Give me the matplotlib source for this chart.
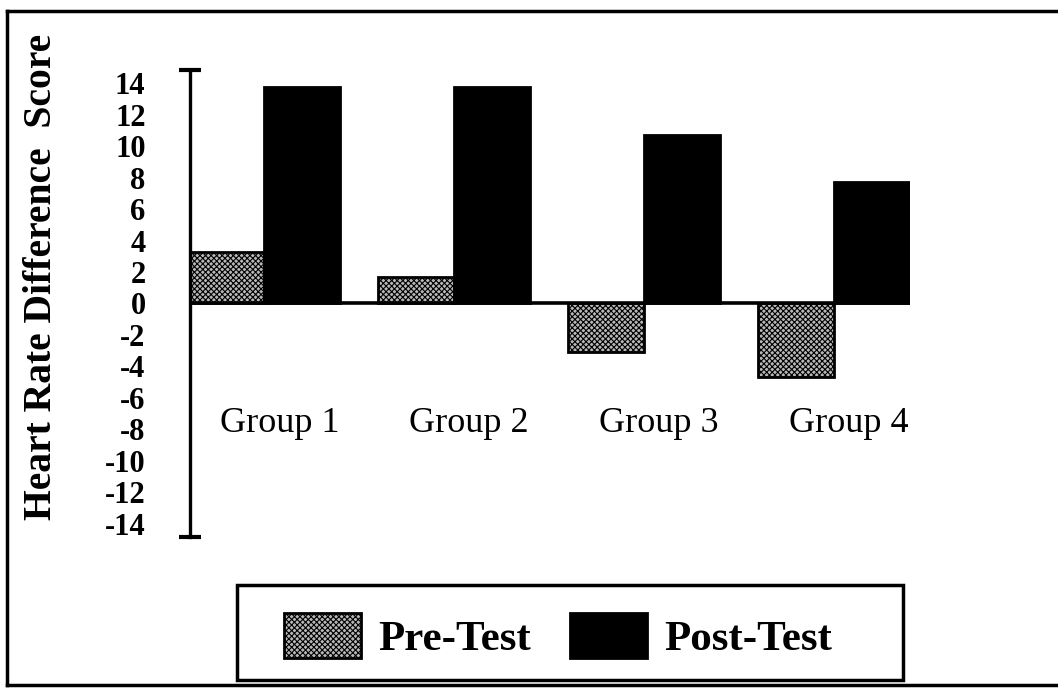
import matplotlib
matplotlib.use("Agg")
import matplotlib.pyplot as plt
from matplotlib.patches import Rectangle
from matplotlib.lines import Line2D
import numpy as np

groups = ["Group 1", "Group 2", "Group 3", "Group 4"]
pre_test = [3.3, 1.7, -3.1, -4.7]
post_test = [13.8, 13.8, 10.7, 7.7]
yticks = list(range(-14, 15, 2))
series_names = ["Pre-Test", "Post-Test"]

plt.rcParams['font.family'] = ['Liberation Serif', 'DejaVu Serif']
plt.rcParams['hatch.linewidth'] = 0.8

W, H = 1058, 690
fig = plt.figure(figsize=(W / 100, H / 100), dpi=100)
fig.patch.set_facecolor('white')

ax = fig.add_axes([190 / W, 1 - 537 / H, 720 / W, 467 / H])
x = np.arange(len(groups))
bw = 0.4

b1 = ax.bar(x - bw / 2, pre_test, bw, facecolor='#b8b8b8', edgecolor='black',
            hatch='xxxxxx', linewidth=2, label=series_names[0], zorder=2)
b2 = ax.bar(x + bw / 2, post_test, bw, facecolor='black', edgecolor='black',
            linewidth=2, label=series_names[1], zorder=2)

ax.axhline(0, color='black', lw=2.6, zorder=3)
ax.set_xlim(-0.39, 3.4)
ax.set_ylim(-14.85, 14.85)
ax.set_yticks(yticks)
ax.set_yticklabels([str(v) for v in yticks], fontsize=22, fontweight='bold')
ax.tick_params(axis='y', length=0, pad=32)
ax.set_xticks([])
for s in ['top', 'right', 'bottom']:
    ax.spines[s].set_visible(False)
ax.spines['left'].set_linewidth(2.4)
ax.spines['left'].set_zorder(4)
# end caps on the axis line
ax.plot([0, 0], [0, 1], transform=ax.transAxes, lw=0, marker='_',
        markersize=16, markeredgewidth=3, color='black', clip_on=False)

for i, g in enumerate(groups):
    ax.text(i + 0.08, -7.6, g, ha='center', va='center', fontsize=26)

fig.text(42 / W, 1 - 277 / H, "Heart Rate Difference  Score", rotation=90,
         ha='center', va='center', fontsize=28.5, fontweight='bold')

# outer border (right side runs off the image)
fig.add_artist(Line2D([7 / W, 7 / W], [1 - 685 / H, 1 - 11 / H],
                      transform=fig.transFigure, color='black', lw=2.5))
fig.add_artist(Line2D([7 / W, 1.0], [1 - 11 / H, 1 - 11 / H],
                      transform=fig.transFigure, color='black', lw=2.5))
fig.add_artist(Line2D([7 / W, 1.0], [1 - 685 / H, 1 - 685 / H],
                      transform=fig.transFigure, color='black', lw=2.5))

# legend box
fig.add_artist(Rectangle((237 / W, 1 - 680 / H), (903 - 237) / W, 95 / H,
                         transform=fig.transFigure, fill=False,
                         edgecolor='black', lw=2.5))
leg = fig.legend(handles=[b1, b2], labels=series_names, loc='center',
                 bbox_to_anchor=(558 / W, 1 - 636 / H), ncol=2, frameon=False,
                 prop={'size': 31, 'weight': 'bold'},
                 handlelength=1.79, handleheight=1.23, handletextpad=0.4,
                 columnspacing=0.9)

fig.savefig("out.png", dpi=100)
